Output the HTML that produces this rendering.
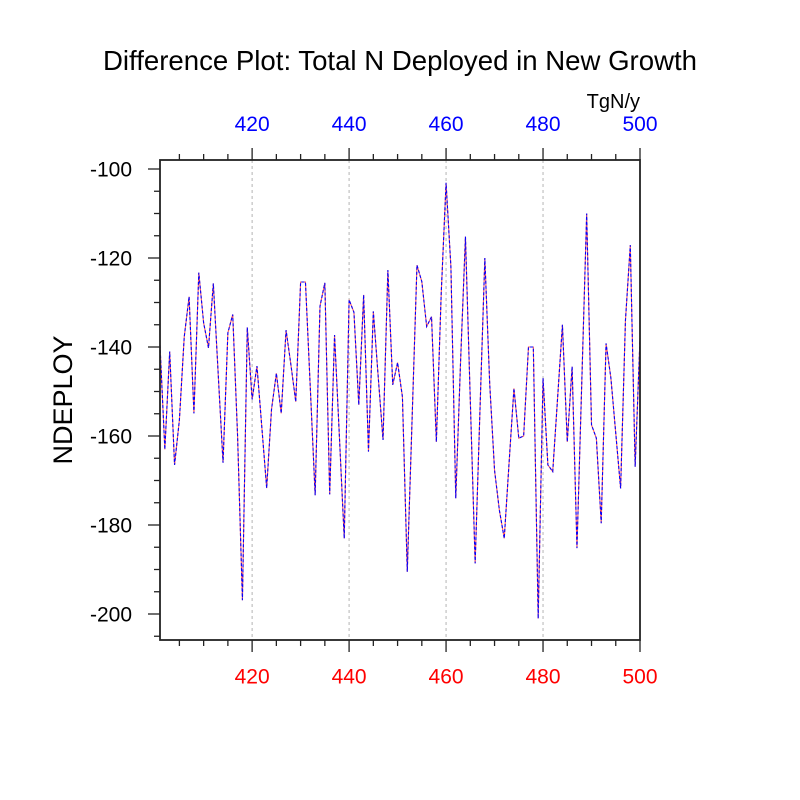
<!DOCTYPE html>
<html><head><meta charset="utf-8"><style>
html,body{margin:0;padding:0;background:#fff;}
svg{display:block;}
text{font-family:"Liberation Sans",Arial,Helvetica,sans-serif;}
</style></head><body>
<svg width="800" height="800" viewBox="0 0 800 800" xmlns="http://www.w3.org/2000/svg">
<rect width="800" height="800" fill="#fff"/>
<text x="400" y="70" font-size="27.6" text-anchor="middle" fill="#000">Difference Plot: Total N Deployed in New Growth</text>
<text x="640" y="108" font-size="20" text-anchor="end" fill="#000">TgN/y</text>
<g font-size="21" fill="#0000ff" text-anchor="middle">
<text x="252.12" y="131">420</text><text x="349.09" y="131">440</text><text x="446.06" y="131">460</text><text x="543.03" y="131">480</text><text x="640" y="131">500</text>
</g>
<g font-size="21" fill="#ff0000" text-anchor="middle">
<text x="252.12" y="683.5">420</text><text x="349.09" y="683.5">440</text><text x="446.06" y="683.5">460</text><text x="543.03" y="683.5">480</text><text x="640" y="683.5">500</text>
</g>
<g font-size="21" fill="#000" text-anchor="end">
<text x="132" y="176.5">-100</text><text x="132" y="265.5">-120</text><text x="132" y="354.5">-140</text><text x="132" y="443.5">-160</text><text x="132" y="532.5">-180</text><text x="132" y="621.5">-200</text>
</g>
<text transform="translate(72,400) rotate(-90)" font-size="27" text-anchor="middle" fill="#000">NDEPLOY</text>
<g stroke="#b4b4b4" stroke-width="1" stroke-dasharray="3,3">
<line x1="252.12" y1="160" x2="252.12" y2="640"/><line x1="349.09" y1="160" x2="349.09" y2="640"/><line x1="446.06" y1="160" x2="446.06" y2="640"/><line x1="543.03" y1="160" x2="543.03" y2="640"/>
</g>
<polyline fill="none" stroke="#ff5a5a" stroke-width="1.1" points="160,345.2 164.85,449.4 169.70,351.5 174.55,464.9 179.39,420.0 184.24,336.8 189.09,296.7 193.94,413.3 198.79,272.7 203.64,323.0 208.48,347.9 213.33,283.4 218.18,373.7 223.03,462.7 227.88,332.8 232.73,314.5 237.58,436 242.42,600.2 247.27,327.4 252.12,399.5 256.97,366.1 261.82,427.1 266.67,488.1 271.52,409.3 276.36,373.3 281.21,413.3 286.06,330.1 290.91,364.8 295.76,401.7 300.61,282.0 305.45,282.0 310.30,387.9 315.15,495.2 320.00,306.1 324.85,282.9 329.70,494.3 334.55,335.0 339.39,436.4 344.24,538.4 349.09,299.8 353.94,312.3 358.79,404.9 363.64,294.9 368.48,451.6 373.33,311.4 378.18,376.4 383.03,440.0 387.88,270.0 392.73,384.8 397.58,362.6 402.42,396.8 407.27,571.7 412.12,418.2 416.97,265.1 421.82,281.6 426.67,326.5 431.52,316.7 436.36,441.8 441.21,293.6 446.06,182.8 450.91,266.9 455.76,498.3 460.61,360.4 465.45,236.6 470.30,400.4 475.15,563.3 480.00,409.3 484.85,258.0 489.70,383.5 494.55,470.3 499.39,510.3 504.24,538.4 509.09,462.7 513.94,388.4 518.79,438.2 523.64,436.0 528.48,347.0 533.33,347.0 538.18,618.5 543.03,378.2 547.88,464.9 552.73,471.6 557.58,398.2 562.42,324.8 567.27,441.8 572.12,366.6 576.97,548.1 581.82,380.8 586.67,213.5 591.52,424.9 596.36,438.2 601.21,523.2 606.06,343.4 610.91,378.2 615.76,433.3 620.61,488.5 625.45,320.3 630.30,245.1 635.15,466.7 640.00,338.1"/>
<polyline fill="none" stroke="#0000ff" stroke-width="1.1" stroke-dasharray="3,2" points="160,345.2 164.85,449.4 169.70,351.5 174.55,464.9 179.39,420.0 184.24,336.8 189.09,296.7 193.94,413.3 198.79,272.7 203.64,323.0 208.48,347.9 213.33,283.4 218.18,373.7 223.03,462.7 227.88,332.8 232.73,314.5 237.58,436 242.42,600.2 247.27,327.4 252.12,399.5 256.97,366.1 261.82,427.1 266.67,488.1 271.52,409.3 276.36,373.3 281.21,413.3 286.06,330.1 290.91,364.8 295.76,401.7 300.61,282.0 305.45,282.0 310.30,387.9 315.15,495.2 320.00,306.1 324.85,282.9 329.70,494.3 334.55,335.0 339.39,436.4 344.24,538.4 349.09,299.8 353.94,312.3 358.79,404.9 363.64,294.9 368.48,451.6 373.33,311.4 378.18,376.4 383.03,440.0 387.88,270.0 392.73,384.8 397.58,362.6 402.42,396.8 407.27,571.7 412.12,418.2 416.97,265.1 421.82,281.6 426.67,326.5 431.52,316.7 436.36,441.8 441.21,293.6 446.06,182.8 450.91,266.9 455.76,498.3 460.61,360.4 465.45,236.6 470.30,400.4 475.15,563.3 480.00,409.3 484.85,258.0 489.70,383.5 494.55,470.3 499.39,510.3 504.24,538.4 509.09,462.7 513.94,388.4 518.79,438.2 523.64,436.0 528.48,347.0 533.33,347.0 538.18,618.5 543.03,378.2 547.88,464.9 552.73,471.6 557.58,398.2 562.42,324.8 567.27,441.8 572.12,366.6 576.97,548.1 581.82,380.8 586.67,213.5 591.52,424.9 596.36,438.2 601.21,523.2 606.06,343.4 610.91,378.2 615.76,433.3 620.61,488.5 625.45,320.3 630.30,245.1 635.15,466.7 640.00,338.1"/>
<g stroke="#222" stroke-width="1.3">
<line x1="252.12" y1="640" x2="252.12" y2="652"/><line x1="349.09" y1="640" x2="349.09" y2="652"/><line x1="446.06" y1="640" x2="446.06" y2="652"/><line x1="543.03" y1="640" x2="543.03" y2="652"/><line x1="640" y1="640" x2="640" y2="652"/>
<line x1="179.39" y1="640" x2="179.39" y2="646"/><line x1="203.64" y1="640" x2="203.64" y2="646"/><line x1="227.88" y1="640" x2="227.88" y2="646"/><line x1="276.36" y1="640" x2="276.36" y2="646"/><line x1="300.61" y1="640" x2="300.61" y2="646"/><line x1="324.85" y1="640" x2="324.85" y2="646"/><line x1="373.33" y1="640" x2="373.33" y2="646"/><line x1="397.58" y1="640" x2="397.58" y2="646"/><line x1="421.82" y1="640" x2="421.82" y2="646"/><line x1="470.30" y1="640" x2="470.30" y2="646"/><line x1="494.55" y1="640" x2="494.55" y2="646"/><line x1="518.79" y1="640" x2="518.79" y2="646"/><line x1="567.27" y1="640" x2="567.27" y2="646"/><line x1="591.52" y1="640" x2="591.52" y2="646"/><line x1="615.76" y1="640" x2="615.76" y2="646"/>
<line x1="252.12" y1="160" x2="252.12" y2="148"/><line x1="349.09" y1="160" x2="349.09" y2="148"/><line x1="446.06" y1="160" x2="446.06" y2="148"/><line x1="543.03" y1="160" x2="543.03" y2="148"/><line x1="640" y1="160" x2="640" y2="148"/>
<line x1="179.39" y1="160" x2="179.39" y2="154"/><line x1="203.64" y1="160" x2="203.64" y2="154"/><line x1="227.88" y1="160" x2="227.88" y2="154"/><line x1="276.36" y1="160" x2="276.36" y2="154"/><line x1="300.61" y1="160" x2="300.61" y2="154"/><line x1="324.85" y1="160" x2="324.85" y2="154"/><line x1="373.33" y1="160" x2="373.33" y2="154"/><line x1="397.58" y1="160" x2="397.58" y2="154"/><line x1="421.82" y1="160" x2="421.82" y2="154"/><line x1="470.30" y1="160" x2="470.30" y2="154"/><line x1="494.55" y1="160" x2="494.55" y2="154"/><line x1="518.79" y1="160" x2="518.79" y2="154"/><line x1="567.27" y1="160" x2="567.27" y2="154"/><line x1="591.52" y1="160" x2="591.52" y2="154"/><line x1="615.76" y1="160" x2="615.76" y2="154"/>
<line x1="160" y1="169" x2="148" y2="169"/><line x1="160" y1="258" x2="148" y2="258"/><line x1="160" y1="347" x2="148" y2="347"/><line x1="160" y1="436" x2="148" y2="436"/><line x1="160" y1="525" x2="148" y2="525"/><line x1="160" y1="614" x2="148" y2="614"/>
<line x1="160" y1="191.25" x2="154" y2="191.25"/><line x1="160" y1="213.5" x2="154" y2="213.5"/><line x1="160" y1="235.75" x2="154" y2="235.75"/><line x1="160" y1="280.25" x2="154" y2="280.25"/><line x1="160" y1="302.5" x2="154" y2="302.5"/><line x1="160" y1="324.75" x2="154" y2="324.75"/><line x1="160" y1="369.25" x2="154" y2="369.25"/><line x1="160" y1="391.5" x2="154" y2="391.5"/><line x1="160" y1="413.75" x2="154" y2="413.75"/><line x1="160" y1="458.25" x2="154" y2="458.25"/><line x1="160" y1="480.5" x2="154" y2="480.5"/><line x1="160" y1="502.75" x2="154" y2="502.75"/><line x1="160" y1="547.25" x2="154" y2="547.25"/><line x1="160" y1="569.5" x2="154" y2="569.5"/><line x1="160" y1="591.75" x2="154" y2="591.75"/><line x1="160" y1="636.25" x2="154" y2="636.25"/>
</g>
<rect x="160" y="160" width="480" height="480" fill="none" stroke="#222" stroke-width="1.8"/>
</svg>
</body></html>
